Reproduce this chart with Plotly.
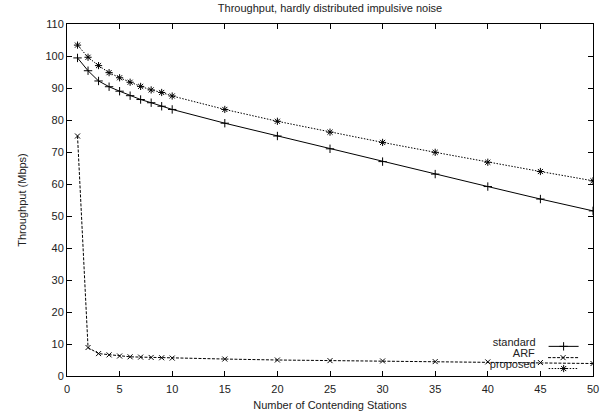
import plotly.graph_objects as go

stations = [1, 2, 3, 4, 5, 6, 7, 8, 9, 10, 15, 20, 25, 30, 35, 40, 45, 50]
standard = [99.4, 95.4, 92.2, 90.4, 89.0, 87.6, 86.4, 85.4, 84.3, 83.3,
            79.0, 75.0, 71.0, 67.0, 63.1, 59.2, 55.3, 51.6]
arf = [75.0, 8.9, 7.0, 6.6, 6.25, 6.0, 5.9, 5.8, 5.7, 5.6,
       5.3, 5.0, 4.8, 4.7, 4.5, 4.4, 4.2, 3.9]
proposed = [103.4, 99.6, 97.0, 94.8, 93.2, 91.8, 90.5, 89.4, 88.6, 87.5,
            83.3, 79.6, 76.2, 73.0, 69.9, 66.8, 63.9, 61.0]
series_names = ["standard", "ARF", "proposed"]

FONT = "Liberation Sans, Arial, Helvetica, sans-serif"
TXT = "#222"

fig = go.Figure()
fig.add_trace(go.Scatter(
    x=stations, y=standard, name="", legend="legend2", mode="lines+markers",
    line=dict(color="black", width=1),
    marker=dict(symbol="cross-thin", size=6, color="black",
                line=dict(color="black", width=1))))
fig.add_trace(go.Scatter(
    x=stations, y=arf, name="", legend="legend3", mode="lines+markers",
    line=dict(color="black", width=1, dash="3px,1.5px"),
    marker=dict(symbol="x-thin", size=5, color="black",
                line=dict(color="black", width=1))))
fig.add_trace(go.Scatter(
    x=stations, y=proposed, name="", legend="legend4", mode="lines+markers",
    line=dict(color="black", width=1, dash="1.5px,1.5px"),
    marker=dict(symbol="asterisk", size=6, color="black",
                line=dict(color="black", width=1))))

axis_common = dict(
    showline=True, linecolor="black", linewidth=1, mirror="ticks",
    ticks="inside", ticklen=5, tickcolor="black", tickwidth=1,
    showgrid=False, zeroline=False, automargin=False,
    tickfont=dict(family=FONT, size=11, color=TXT),
)


def legend_box(label, ypos):
    return dict(x=0.992, y=ypos, xanchor="right", yanchor="bottom",
                bgcolor="rgba(0,0,0,0)", borderwidth=0,
                title=dict(text=label, side="left",
                           font=dict(family=FONT, size=11, color=TXT)),
                font=dict(family=FONT, size=11, color=TXT),
                itemwidth=30)


fig.update_layout(
    width=610, height=420,
    paper_bgcolor="white", plot_bgcolor="white",
    margin=dict(l=67, r=17, t=24, b=44),
    font=dict(family=FONT, size=11, color=TXT),
    title=dict(text="Throughput, hardly distributed impulsive noise",
               x=0.5, xref="paper", y=1 - 8 / 420, yref="container",
               yanchor="middle", font=dict(family=FONT, size=11, color=TXT)),
    xaxis=dict(range=[0, 50], dtick=5, tick0=0, ticklabelstandoff=3,
               title=dict(text="Number of Contending Stations", standoff=7,
                          font=dict(family=FONT, size=11, color=TXT)),
               **axis_common),
    yaxis=dict(range=[0, 110], dtick=10, tick0=0,
               title=dict(text="Throughput (Mbps)", standoff=16,
                          font=dict(family=FONT, size=11, color=TXT)),
               **axis_common),
    legend2=legend_box(series_names[0], 0.043),
    legend3=legend_box(series_names[1], 0.011),
    legend4=legend_box(series_names[2], -0.020),
    showlegend=True,
)

fig.write_html("out.html",
               config={"displayModeBar": False},
               post_script="document.body.style.margin='0';")
